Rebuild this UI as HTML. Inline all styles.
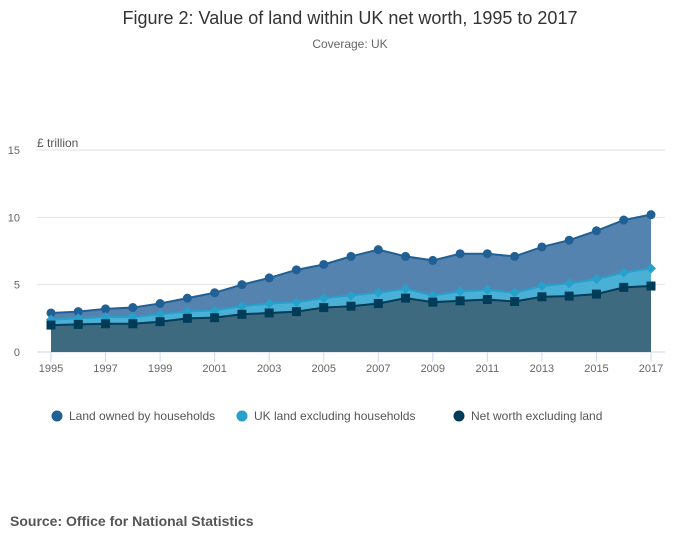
<!DOCTYPE html>
<html><head><meta charset="utf-8"><style>
body{margin:0;background:#fff;font-family:"Liberation Sans",sans-serif}
</style></head><body>
<svg width="700" height="549" xmlns="http://www.w3.org/2000/svg">
<text x="350" y="24" text-anchor="middle" font-size="18" fill="#333">Figure 2: Value of land within UK net worth, 1995 to 2017</text>
<text x="350" y="48" text-anchor="middle" font-size="12" fill="#666">Coverage: UK</text>
<text x="37" y="147" font-size="12" fill="#555">£ trillion</text>
<g id="grid"></g><g id="areas"></g><g id="marks"></g><g id="xaxis"></g>
<g>
<circle cx="57" cy="416" r="5.5" fill="#206095"/>
<text x="69" y="420" font-size="12" fill="#555">Land owned by households</text>
<circle cx="242" cy="416" r="5.5" fill="#27a0cc"/>
<text x="254" y="420" font-size="12" fill="#555">UK land excluding households</text>
<circle cx="459" cy="416" r="5.5" fill="#003c57"/>
<text x="471" y="420" font-size="12" fill="#555">Net worth excluding land</text>
</g>
<text x="10" y="526" font-size="14" font-weight="bold" fill="#555">Source: Office for National Statistics</text>
</svg>
<script>
const years=[1995,1996,1997,1998,1999,2000,2001,2002,2003,2004,2005,2006,2007,2008,2009,2010,2011,2012,2013,2014,2015,2016,2017];
const landHouseholdsTop=[2.9,3.0,3.2,3.3,3.6,4.0,4.4,5.0,5.5,6.1,6.5,7.1,7.6,7.1,6.8,7.3,7.3,7.1,7.8,8.3,9.0,9.8,10.2];
const ukLandTop=[2.4,2.5,2.6,2.6,2.8,3.0,3.1,3.4,3.6,3.7,4.0,4.2,4.4,4.7,4.2,4.5,4.6,4.4,4.9,5.1,5.4,5.9,6.2];
const netWorth=[2.0,2.05,2.1,2.1,2.25,2.5,2.55,2.8,2.9,3.0,3.3,3.4,3.6,4.0,3.7,3.8,3.9,3.75,4.1,4.15,4.3,4.8,4.9];
const yTicks=[0,5,10,15];
const xTicks=[1995,1997,1999,2001,2003,2005,2007,2009,2011,2013,2015,2017];
const NS="http://www.w3.org/2000/svg";
const x=v=>51+(v-1995)*600/22, y=v=>352-v*202/15;
function mk(t,a,p){const e=document.createElementNS(NS,t);for(const k in a)e.setAttribute(k,a[k]);p.appendChild(e);return e;}
const grid=document.getElementById('grid');
yTicks.forEach(t=>{
 const l=mk('line',{x1:37,x2:665,y1:y(t),y2:y(t),stroke:t?'#e2e2e2':'#ccd6eb','stroke-width':1},grid);
 
 
 const tx=mk('text',{x:20,y:y(t)+4,'text-anchor':'end','font-size':11,fill:'#666'},grid);tx.textContent=t;
 
 
});
const xa=document.getElementById('xaxis');
xTicks.forEach(t=>{
 mk('line',{x1:x(t),x2:x(t),y1:352,y2:362,stroke:'#ccd6eb'},xa);
 const tx=mk('text',{x:x(t),y:372,'text-anchor':'middle','font-size':11,fill:'#666'},xa);tx.textContent=t;
 
 
});
const areas=document.getElementById('areas'),marks=document.getElementById('marks');
function series(vals,fill,stroke,shape,name){
 const pts=vals.map((v,i)=>x(years[i])+','+y(vals[i])).join(' ');
 const a=mk('polygon',{points:x(1995)+',352 '+pts+' '+x(2017)+',352',fill:fill},areas);
 
 
 const l=mk('polyline',{points:pts,fill:'none',stroke:stroke,'stroke-width':2},marks);
 
 
 vals.forEach((v,i)=>{
  const cx=x(years[i]),cy=y(v);let m;
  if(shape==='c')m=mk('circle',{cx:cx,cy:cy,r:4.5,fill:stroke},marks);
  else if(shape==='s')m=mk('rect',{x:cx-4.5,y:cy-4.5,width:9,height:9,fill:stroke},marks);
  else m=mk('polygon',{points:`${cx},${cy-5} ${cx+5},${cy} ${cx},${cy+5} ${cx-5},${cy}`,fill:stroke},marks);
  
  
 });
}
series(landHouseholdsTop,'#5583af','#206095','c','land-households');
series(ukLandTop,'#4ab0d6','#27a0cc','d','uk-land');
series(netWorth,'#3e6a80','#003c57','s','net-worth');
</script>
</body></html>
